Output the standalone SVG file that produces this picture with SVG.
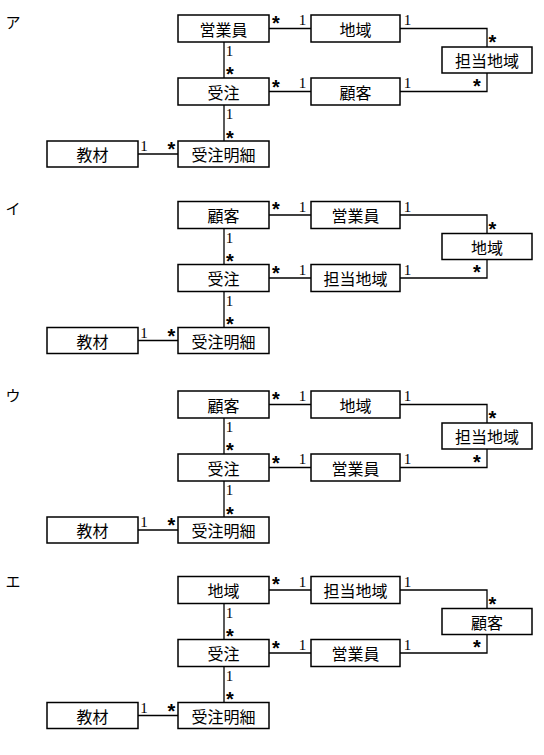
<svg xmlns="http://www.w3.org/2000/svg" width="544" height="755" viewBox="0 0 544 755">
<style>
.bg{fill:#fff}
.box{fill:#fff;stroke:#000;stroke-width:1.5}
.lbl{font-family:"Noto Sans CJK JP","Noto Sans CJK SC",sans-serif;font-size:16px;text-anchor:middle;dominant-baseline:central;fill:#000}
.sec{font-family:"Noto Sans CJK JP","Noto Sans CJK SC",sans-serif;font-size:15px;text-anchor:middle;dominant-baseline:central;fill:#000}
.ln{fill:none;stroke:#000;stroke-width:1.3}
.one{font-family:"Liberation Serif",serif;font-size:15px;text-anchor:middle;fill:#000}
.star{font-family:"Liberation Sans",sans-serif;font-size:20px;font-weight:bold;text-anchor:middle;fill:#000}
</style>
<rect class="bg" x="0" y="0" width="544" height="755"/>

<defs>
<g id="conn">
<path class="ln" d="M269 28.5H311"/>
<path class="ln" d="M400 28.5H487V47"/>
<path class="ln" d="M224 42V78"/>
<path class="ln" d="M269 91.5H311"/>
<path class="ln" d="M400 91.5H487V73"/>
<path class="ln" d="M224 105V141"/>
<path class="ln" d="M138 154H178"/>
<text class="star" x="276" y="29.5">*</text>
<text class="one" x="302.5" y="25">1</text>
<text class="one" x="407.5" y="25">1</text>
<text class="star" x="492.5" y="49">*</text>
<text class="one" x="229.5" y="56">1</text>
<text class="star" x="230" y="81">*</text>
<text class="star" x="276" y="93.5">*</text>
<text class="one" x="302.5" y="88">1</text>
<text class="one" x="407.5" y="88">1</text>
<text class="star" x="477" y="92.5">*</text>
<text class="one" x="229.5" y="119">1</text>
<text class="star" x="230" y="144.5">*</text>
<text class="one" x="144" y="151">1</text>
<text class="star" x="171.5" y="156">*</text>
</g>
</defs>

<!-- ア -->
<g id="sec-a">
<text class="sec" x="13" y="21.5">ア</text>
<g id="a-connectors"><use href="#conn"/></g>
<g id="a-eigyoin"><rect class="box" x="178" y="15" width="91" height="27"/><text class="lbl" x="223.5" y="28.5">営業員</text></g>
<g id="a-chiiki"><rect class="box" x="311" y="15" width="89" height="27"/><text class="lbl" x="355.5" y="28.5">地域</text></g>
<g id="a-tantouchiiki"><rect class="box" x="442" y="47" width="90" height="26"/><text class="lbl" x="487" y="60">担当地域</text></g>
<g id="a-juchu"><rect class="box" x="178" y="78" width="91" height="27"/><text class="lbl" x="223.5" y="91.5">受注</text></g>
<g id="a-kokyaku"><rect class="box" x="311" y="78" width="89" height="27"/><text class="lbl" x="355.5" y="91.5">顧客</text></g>
<g id="a-kyozai"><rect class="box" x="47" y="141" width="91" height="26"/><text class="lbl" x="92.5" y="154">教材</text></g>
<g id="a-meisai"><rect class="box" x="178" y="141" width="91" height="26"/><text class="lbl" x="223.5" y="154">受注明細</text></g>
</g>

<!-- イ -->
<text class="sec" x="13" y="207">イ</text>
<g id="sec-i" transform="translate(0,186.5)">
<g id="i-connectors"><use href="#conn"/></g>
<g id="i-kokyaku"><rect class="box" x="178" y="15" width="91" height="27"/><text class="lbl" x="223.5" y="28.5">顧客</text></g>
<g id="i-eigyoin"><rect class="box" x="311" y="15" width="89" height="27"/><text class="lbl" x="355.5" y="28.5">営業員</text></g>
<g id="i-chiiki"><rect class="box" x="442" y="47" width="90" height="26"/><text class="lbl" x="487" y="60">地域</text></g>
<g id="i-juchu"><rect class="box" x="178" y="78" width="91" height="27"/><text class="lbl" x="223.5" y="91.5">受注</text></g>
<g id="i-tantouchiiki"><rect class="box" x="311" y="78" width="89" height="27"/><text class="lbl" x="355.5" y="91.5">担当地域</text></g>
<g id="i-kyozai"><rect class="box" x="47" y="141" width="91" height="26"/><text class="lbl" x="92.5" y="154">教材</text></g>
<g id="i-meisai"><rect class="box" x="178" y="141" width="91" height="26"/><text class="lbl" x="223.5" y="154">受注明細</text></g>
</g>

<!-- ウ -->
<text class="sec" x="13" y="394">ウ</text>
<g id="sec-u" transform="translate(0,376)">
<g id="u-connectors"><use href="#conn"/></g>
<g id="u-kokyaku"><rect class="box" x="178" y="15" width="91" height="27"/><text class="lbl" x="223.5" y="28.5">顧客</text></g>
<g id="u-chiiki"><rect class="box" x="311" y="15" width="89" height="27"/><text class="lbl" x="355.5" y="28.5">地域</text></g>
<g id="u-tantouchiiki"><rect class="box" x="442" y="47" width="90" height="26"/><text class="lbl" x="487" y="60">担当地域</text></g>
<g id="u-juchu"><rect class="box" x="178" y="78" width="91" height="27"/><text class="lbl" x="223.5" y="91.5">受注</text></g>
<g id="u-eigyoin"><rect class="box" x="311" y="78" width="89" height="27"/><text class="lbl" x="355.5" y="91.5">営業員</text></g>
<g id="u-kyozai"><rect class="box" x="47" y="141" width="91" height="26"/><text class="lbl" x="92.5" y="154">教材</text></g>
<g id="u-meisai"><rect class="box" x="178" y="141" width="91" height="26"/><text class="lbl" x="223.5" y="154">受注明細</text></g>
</g>

<!-- エ -->
<text class="sec" x="13" y="580">エ</text>
<g id="sec-e" transform="translate(0,561.5)">
<g id="e-connectors"><use href="#conn"/></g>
<g id="e-chiiki"><rect class="box" x="178" y="15" width="91" height="27"/><text class="lbl" x="223.5" y="28.5">地域</text></g>
<g id="e-tantouchiiki"><rect class="box" x="311" y="15" width="89" height="27"/><text class="lbl" x="355.5" y="28.5">担当地域</text></g>
<g id="e-kokyaku"><rect class="box" x="442" y="47" width="90" height="26"/><text class="lbl" x="487" y="60">顧客</text></g>
<g id="e-juchu"><rect class="box" x="178" y="78" width="91" height="27"/><text class="lbl" x="223.5" y="91.5">受注</text></g>
<g id="e-eigyoin"><rect class="box" x="311" y="78" width="89" height="27"/><text class="lbl" x="355.5" y="91.5">営業員</text></g>
<g id="e-kyozai"><rect class="box" x="47" y="141" width="91" height="26"/><text class="lbl" x="92.5" y="154">教材</text></g>
<g id="e-meisai"><rect class="box" x="178" y="141" width="91" height="26"/><text class="lbl" x="223.5" y="154">受注明細</text></g>
</g>
</svg>
